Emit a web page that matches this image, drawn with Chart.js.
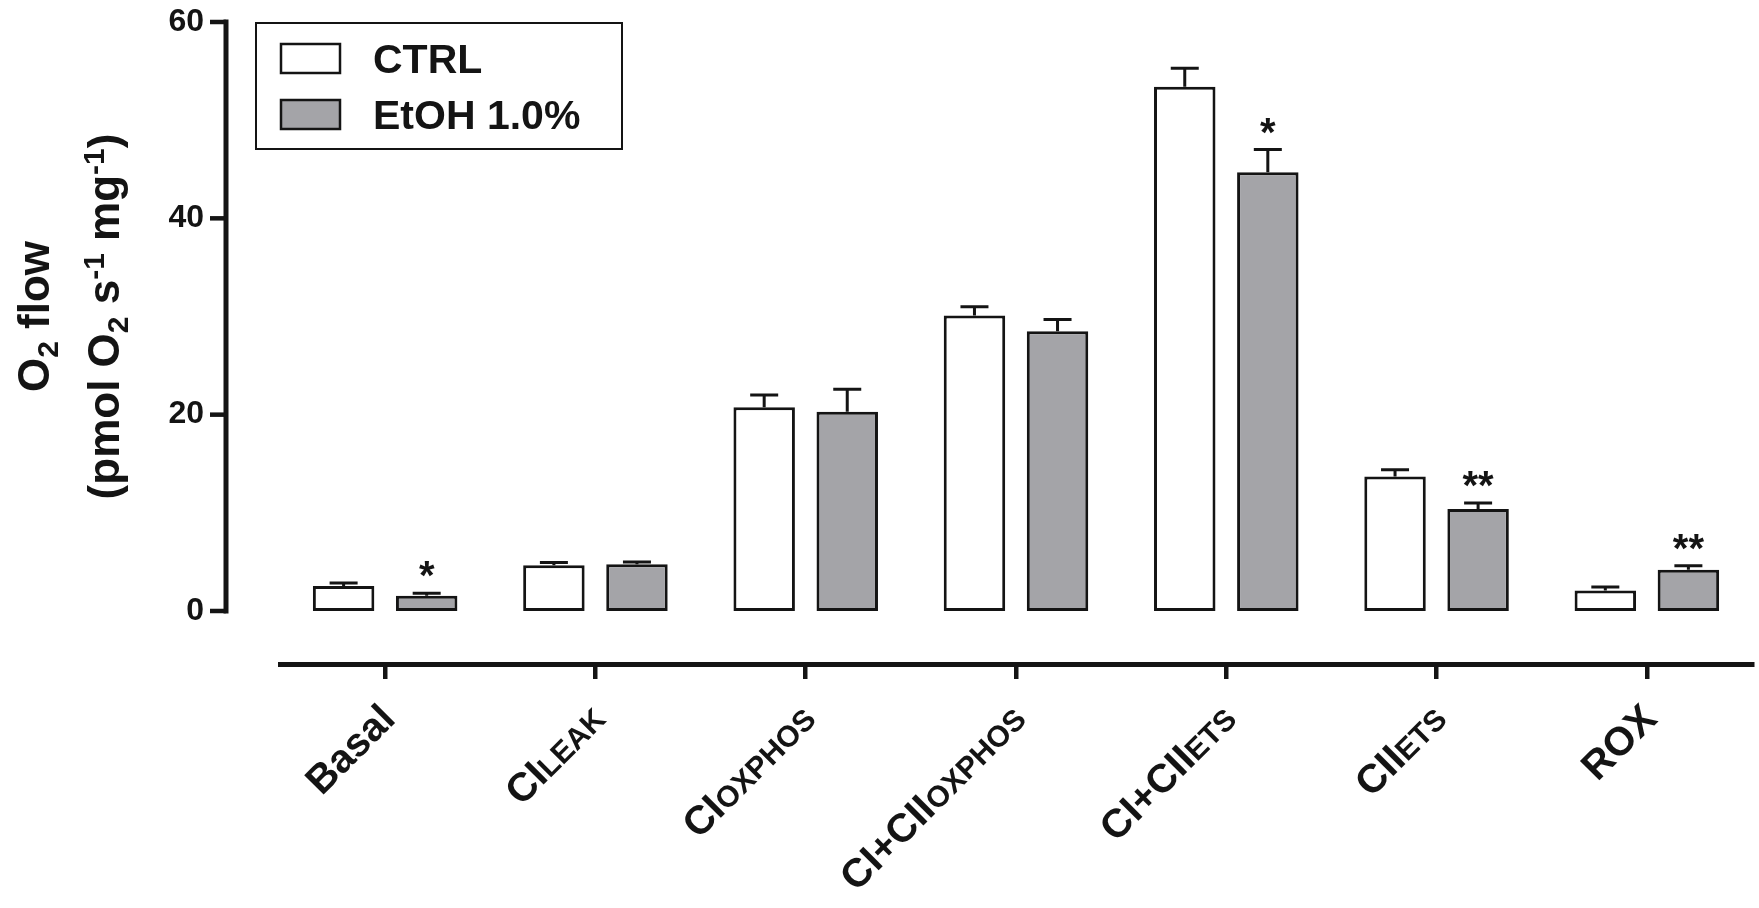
<!DOCTYPE html>
<html>
<head>
<meta charset="utf-8">
<script src="https://cdn.jsdelivr.net/npm/chart.js@4.4.1/dist/chart.umd.min.js"></script>
<style>
  html, body { margin: 0; padding: 0; background: #fff; }
</style>
</head>
<body>
<canvas id="chart" width="1759" height="908"></canvas>
<script>
// values (mean and SEM, pmol O2 s-1 mg-1)
const categories = ["Basal", "CILEAK", "CIOXPHOS", "CI+CIIOXPHOS", "CI+CIIETS", "CIIETS", "ROX"];
const labelMain = ["Basal", "CI", "CI", "CI+CII", "CI+CII", "CII", "ROX"];
const labelSub = ["", "LEAK", "OXPHOS", "OXPHOS", "ETS", "ETS", ""];
const seriesNames = ["CTRL", "EtOH 1.0%"];
const ctrlValues = [2.55, 4.65, 20.75, 30.1, 53.4, 13.7, 2.1];
const ctrlSem = [0.3, 0.3, 1.25, 0.9, 1.9, 0.7, 0.35];
const etohValues = [1.55, 4.75, 20.3, 28.5, 44.7, 10.4, 4.2];
const etohSem = [0.25, 0.25, 2.3, 1.2, 2.3, 0.6, 0.4];
const etohSignif = ["*", "", "", "", "*", "**", "**"];
const yTicks = [0, 20, 40, 60];

const INK = "#141414";
const GREY = "#a4a4a8";
const FAMILY = "'Liberation Sans', Arial, sans-serif";
const bold = (size) => "bold " + size + "px " + FAMILY;

// y axis sits apart from the bars, like the GraphPad original
const yAxisLine = {
  id: "yAxisLine",
  afterDraw(chart) {
    const { ctx, chartArea, scales: { y } } = chart;
    const ax = chartArea.left - 54;
    ctx.save();
    ctx.strokeStyle = INK;
    ctx.lineWidth = 5;
    ctx.beginPath();
    ctx.moveTo(ax, y.getPixelForValue(yTicks[yTicks.length - 1]) - 2.5);
    ctx.lineTo(ax, y.getPixelForValue(0) + 2.5);
    ctx.stroke();
    ctx.lineWidth = 4.5;
    yTicks.forEach((v) => {
      const py = y.getPixelForValue(v);
      ctx.beginPath();
      ctx.moveTo(ax - 16, py);
      ctx.lineTo(ax, py);
      ctx.stroke();
    });
    ctx.restore();
  },
};

function drawRich(ctx, parts, cx, cy) {
  ctx.save();
  ctx.translate(cx, cy);
  ctx.rotate(-Math.PI / 2);
  ctx.textAlign = "left";
  ctx.textBaseline = "alphabetic";
  const widths = parts.map((p) => {
    ctx.font = bold(p.size);
    return ctx.measureText(p.text).width;
  });
  let x = -widths.reduce((a, b) => a + b, 0) / 2;
  parts.forEach((p, k) => {
    ctx.font = bold(p.size);
    ctx.fillText(p.text, x, 16 + (p.shift || 0));
    x += widths[k];
  });
  ctx.restore();
}

const yTitle = {
  id: "yTitle",
  afterDraw(chart) {
    const { ctx, scales: { y } } = chart;
    const mid = (y.getPixelForValue(60) + y.getPixelForValue(0)) / 2;
    ctx.save();
    ctx.fillStyle = INK;
    drawRich(ctx, [
      { text: "O", size: 44 },
      { text: "2", size: 30, shift: 9 },
      { text: " flow", size: 44 },
    ], 33, mid);
    drawRich(ctx, [
      { text: "(pmol O", size: 44 },
      { text: "2", size: 30, shift: 9 },
      { text: " s", size: 44 },
      { text: "-1", size: 30, shift: -15 },
      { text: " mg", size: 44 },
      { text: "-1", size: 30, shift: -15 },
      { text: ")", size: 44 },
    ], 103, mid);
    ctx.restore();
  },
};

const xLabels = {
  id: "xLabels",
  afterDraw(chart) {
    const { ctx, scales: { x } } = chart;
    ctx.save();
    ctx.fillStyle = INK;
    ctx.textAlign = "right";
    ctx.textBaseline = "alphabetic";
    labelMain.forEach((main, i) => {
      const px = x.getPixelForTick(i);
      ctx.save();
      ctx.translate(px + 12, x.top + 57);
      ctx.rotate(-Math.PI / 4);
      let end = 0;
      if (labelSub[i]) {
        ctx.font = bold(30);
        ctx.fillText(labelSub[i], 0, 0);
        end = -ctx.measureText(labelSub[i]).width;
      }
      ctx.font = bold(40);
      ctx.fillText(main, end, 0);
      ctx.restore();
    });
    ctx.restore();
  },
};

const errorBars = {
  id: "errorBars",
  afterDatasetsDraw(chart) {
    const { ctx, scales: { y } } = chart;
    ctx.save();
    ctx.strokeStyle = INK;
    ctx.fillStyle = INK;
    ctx.lineWidth = 3;
    ctx.font = bold(40);
    ctx.textAlign = "center";
    ctx.textBaseline = "alphabetic";
    chart.data.datasets.forEach((ds, i) => {
      chart.getDatasetMeta(i).data.forEach((bar, j) => {
        const top = y.getPixelForValue(ds.data[j] + ds.sem[j]);
        ctx.beginPath();
        ctx.moveTo(bar.x, bar.y);
        ctx.lineTo(bar.x, top);
        ctx.moveTo(bar.x - 14, top);
        ctx.lineTo(bar.x + 14, top);
        ctx.stroke();
        if (ds.signif && ds.signif[j]) {
          ctx.fillText(ds.signif[j], bar.x, top - 4);
        }
      });
    });
    ctx.restore();
  },
};

const boxedLegend = {
  id: "boxedLegend",
  afterDraw(chart) {
    const { ctx } = chart;
    ctx.save();
    ctx.strokeStyle = INK;
    ctx.lineWidth = 2;
    ctx.strokeRect(256, 23, 366, 126);
    chart.data.datasets.forEach((ds, i) => {
      const top = 44 + i * 56;
      ctx.fillStyle = ds.backgroundColor;
      ctx.fillRect(281, top, 59, 29);
      ctx.lineWidth = 2.5;
      ctx.strokeRect(281, top, 59, 29);
      ctx.fillStyle = INK;
      ctx.font = bold(41);
      ctx.textAlign = "left";
      ctx.textBaseline = "alphabetic";
      ctx.fillText(ds.label, 373, top + 29);
    });
    ctx.restore();
  },
};

new Chart(document.getElementById("chart"), {
  type: "bar",
  data: {
    labels: categories,
    datasets: [
      {
        label: seriesNames[0],
        data: ctrlValues,
        sem: ctrlSem,
        backgroundColor: "#ffffff",
        borderColor: INK,
        borderWidth: 3,
        borderSkipped: false,
        categoryPercentage: 0.79,
        barPercentage: 0.74,
      },
      {
        label: seriesNames[1],
        data: etohValues,
        sem: etohSem,
        signif: etohSignif,
        backgroundColor: GREY,
        borderColor: INK,
        borderWidth: 3,
        borderSkipped: false,
        categoryPercentage: 0.79,
        barPercentage: 0.74,
      },
    ],
  },
  options: {
    responsive: false,
    animation: false,
    layout: { padding: { top: 22, right: 7, left: 0, bottom: 0 } },
    plugins: {
      legend: { display: false },
      tooltip: { enabled: false },
    },
    scales: {
      x: {
        offset: true,
        grid: {
          offset: false,
          drawOnChartArea: false,
          drawTicks: true,
          tickLength: 15,
          lineWidth: 4.5,
          color: INK,
        },
        border: { display: true, width: 5, color: INK },
        ticks: { display: false },
        afterFit: (scale) => { scale.height = 244; },
      },
      y: {
        min: -5.4,
        max: 60,
        afterBuildTicks: (scale) => { scale.ticks = yTicks.map((v) => ({ value: v })); },
        // tick marks are drawn by yAxisLine; the long hidden tick only pushes labels left
        grid: { display: false, drawTicks: true, tickLength: 76 },
        border: { display: false },
        ticks: { padding: 0, color: INK, font: { family: FAMILY, size: 32, weight: "bold" } },
        afterFit: (scale) => { scale.width = 280; },
      },
    },
  },
  plugins: [errorBars, yAxisLine, yTitle, xLabels, boxedLegend],
});
</script>
</body>
</html>
